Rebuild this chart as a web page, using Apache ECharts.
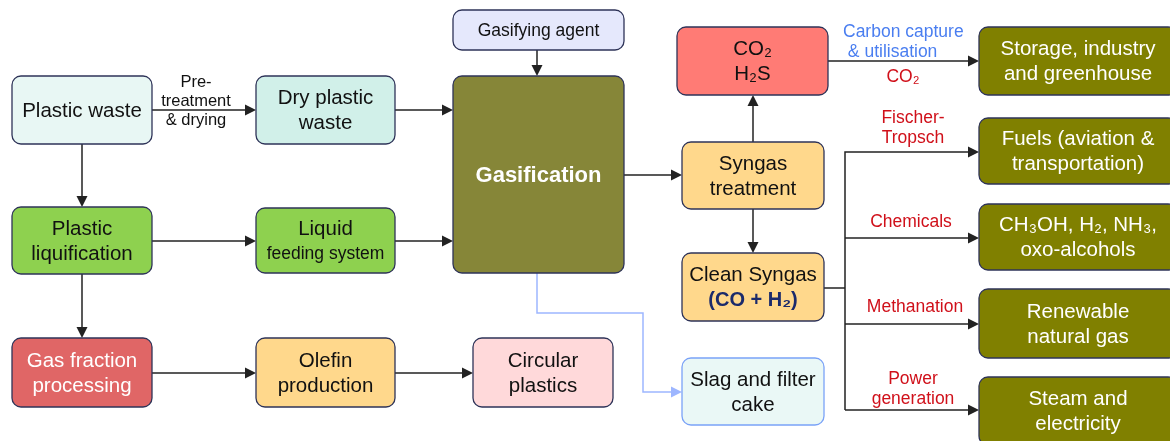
<!DOCTYPE html>
<html><head><meta charset="utf-8">
<script src="https://cdn.jsdelivr.net/npm/echarts@6/dist/echarts.min.js"></script>
<style>html,body{margin:0;padding:0;background:#fff}#c{width:1170px;height:441px}</style>
</head><body><div id="c"></div>
<script>
// ---- node content ----
const nodeLabels = [
  'Plastic waste',
  'Dry plastic\nwaste',
  'Gasifying agent',
  'Gasification',
  'CO₂\nH₂S',
  'Syngas\ntreatment',
  'Clean Syngas\n{b|(CO + H₂)}',
  'Slag and filter\ncake',
  'Plastic\nliquification',
  'Liquid\n{s|feeding system}',
  'Gas fraction\nprocessing',
  'Olefin\nproduction',
  'Circular\nplastics',
  'Storage, industry\nand greenhouse',
  'Fuels (aviation &\ntransportation)',
  'CH₃OH, H₂, NH₃,\noxo-alcohols',
  'Renewable\nnatural gas',
  'Steam and\nelectricity'
];
// box extents in diagram units [x0, y0, x1, y1]
const nodeBoxes = [
  [12,76,152,144],[256,76,395,144],[453,10,624,50],[453,76,624,273],
  [677,27,828,95],[682,142,824,209],[682,253,824,321],[682,358,824,425],
  [12,207,152,274],[256,208,395,273],[12,338,152,407],[256,338,395,407],
  [473,338,613,407],[979,27,1177,95],[979,118,1177,184],[979,204,1177,270],
  [979,289,1177,358],[979,377,1177,445]
];
const nodeFills = ['#e8f7f4','#d1f0e9','#e5e8fc','#868638','#ff7b75','#ffd88c','#ffd88c','#eaf8f6',
  '#8ed14f','#8ed14f','#e06666','#ffd88c','#ffd9da','#808000','#808000','#808000','#808000','#808000'];
const nodeTextColors = ['#111','#111','#111','#fff','#111','#111','#111','#111',
  '#111','#111','#fff','#111','#111','#fff','#fff','#fff','#fff','#fff'];

// ---- edges ----
const edgePaths = [
  [[152,110],[256,110]],
  [[395,110],[453,110]],
  [[537,50],[537,76]],
  [[82,144],[82,207]],
  [[152,241],[256,241]],
  [[395,241],[453,241]],
  [[82,274],[82,338]],
  [[152,373],[256,373]],
  [[395,373],[473,373]],
  [[624,175],[682,175]],
  [[753,142],[753,95]],
  [[753,209],[753,253]],
  [[828,61],[979,61]],
  [[824,288],[845,288]],
  [[845,410],[845,152],[979,152]],
  [[845,238],[979,238]],
  [[845,324],[979,324]],
  [[845,410],[979,410]],
  [[537,273],[537,313],[643,313],[643,392],[682,392]]
];
const edgeArrow = [1,1,1,1,1,1,1,1,1,1,1,1,1,0,1,1,1,1,1];
const edgeKind  = [0,0,0,0,0,0,0,0,0,0,0,0,0,0,0,0,0,0,1];

// ---- edge labels ----
const labelTexts = ['Pre-\ntreatment\n& drying','Carbon capture\n & utilisation','CO₂','Fischer-\nTropsch',
  'Chemicals','Methanation','Power\ngeneration'];
const labelAnchors = [[196,101],[843,42],[903,77],[913,128],[911,222],[915,307],[913,389]];
const labelKind = [0,1,2,2,2,2,2];

const FONT = '"Liberation Sans", Arial, Helvetica, sans-serif';
const NAVY = '#2e3358';

const chart = echarts.init(document.getElementById('c'));
chart.setOption({
  animation: false,
  grid: {left: 0, right: 0, top: 0, bottom: 0},
  xAxis: {type: 'value', min: 0, max: 1170, show: false},
  yAxis: {type: 'value', min: 0, max: 441, inverse: true, show: false},
  series: [
    {
      type: 'custom', clip: false, z: 1,
      data: edgePaths.map((p, i) => [p[0][0], p[0][1], i]),
      encode: {x: 0, y: 1},
      renderItem: function (params, api) {
        const i = api.value(2);
        const pts = edgePaths[i].map(q => api.coord(q));
        const col = edgeKind[i] ? '#9db6ff' : '#222';
        const children = [];
        const linePts = pts.map(q => q.slice());
        if (edgeArrow[i]) {
          const a = pts[pts.length - 2], b = pts[pts.length - 1];
          const dx = b[0] - a[0], dy = b[1] - a[1];
          const L = Math.sqrt(dx * dx + dy * dy);
          const ux = dx / L, uy = dy / L;
          const len = 11, hw = 5.5;
          const base = [b[0] - ux * len, b[1] - uy * len];
          linePts[linePts.length - 1] = [base[0] + ux * 1, base[1] + uy * 1];
          children.push({type: 'polygon', shape: {points: [
            [b[0], b[1]], [base[0] - uy * hw, base[1] + ux * hw], [base[0] + uy * hw, base[1] - ux * hw]
          ]}, style: {fill: col}});
        }
        children.unshift({type: 'polyline', shape: {points: linePts},
          style: {stroke: col, lineWidth: 1.5, fill: null}});
        return {type: 'group', children: children};
      }
    },
    {
      type: 'custom', clip: false, z: 2,
      data: nodeBoxes.map((b, i) => [b[0], b[1], b[2], b[3], i]),
      encode: {x: [0, 2], y: [1, 3]},
      renderItem: function (params, api) {
        const i = api.value(4);
        const p0 = api.coord([api.value(0), api.value(1)]);
        const p1 = api.coord([api.value(2), api.value(3)]);
        const isGas = i === 3;
        const isAgent = i === 2;
        return {type: 'group', children: [
          {type: 'rect', shape: {x: p0[0], y: p0[1], width: p1[0] - p0[0], height: p1[1] - p0[1], r: 9},
            style: {fill: nodeFills[i], stroke: i === 7 ? '#7aa2f7' : NAVY, lineWidth: 1.3}},
          {type: 'text', style: {
            x: (p0[0] + p1[0]) / 2, y: (p0[1] + p1[1]) / 2 + 1,
            text: nodeLabels[i], align: 'center', verticalAlign: 'middle',
            fill: nodeTextColors[i], fontFamily: FONT,
            fontSize: isGas ? 22 : (isAgent ? 17.5 : 20.5),
            fontWeight: isGas ? 'bold' : 'normal',
            lineHeight: 25,
            rich: {
              b: {fontSize: 20, fontWeight: 'bold', fill: '#1b2a6b', fontFamily: FONT, lineHeight: 25},
              s: {fontSize: 17.5, fill: '#111', fontFamily: FONT, lineHeight: 25}
            }
          }}
        ]};
      }
    },
    {
      type: 'custom', clip: false, z: 3,
      data: labelAnchors.map((a, i) => [a[0], a[1], i]),
      encode: {x: 0, y: 1},
      renderItem: function (params, api) {
        const i = api.value(2);
        const p = api.coord([api.value(0), api.value(1)]);
        const k = labelKind[i];
        return {type: 'text', style: {
          x: p[0], y: p[1], text: labelTexts[i],
          align: k === 1 ? 'left' : 'center', verticalAlign: 'middle',
          fill: k === 0 ? '#111' : (k === 1 ? '#4a7ef0' : '#d0101a'),
          fontFamily: FONT, fontSize: k === 0 ? 16.5 : 17.5,
          lineHeight: k === 0 ? 19 : 20
        }};
      }
    }
  ]
});
</script>
</body></html>
